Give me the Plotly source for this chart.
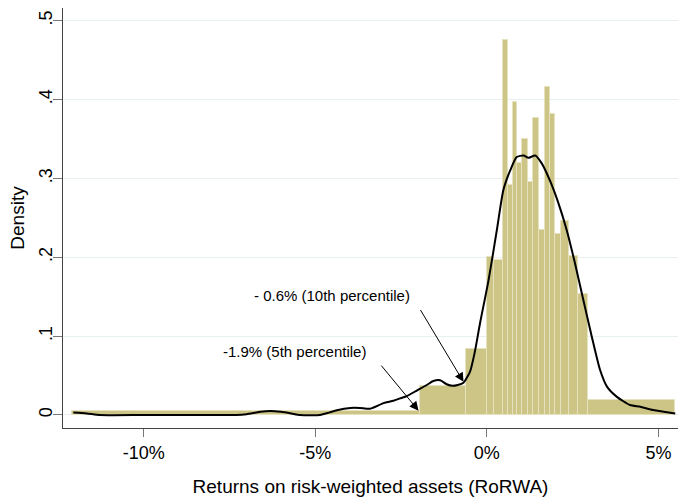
import plotly.graph_objects as go
import numpy as np

# Histogram bin edges (% RoRWA) and densities
bin_edges = [-12.08, -1.94, -0.62, 0.0, 0.21, 0.47, 0.63, 0.75, 0.89, 1.03, 1.21,
             1.35, 1.51, 1.70, 1.85, 1.99, 2.17, 2.40, 2.65, 2.96, 5.49]
bin_density = [0.0045, 0.037, 0.084, 0.200, 0.197, 0.475, 0.291, 0.397, 0.319, 0.350,
               0.295, 0.376, 0.235, 0.416, 0.381, 0.229, 0.246, 0.202, 0.153, 0.019]

# Kernel density curve
kde_x = [-12.05, -11.66, -11.27, -10.0, -9.0, -8.0, -7.3, -7.0, -6.6, -6.31, -6.0, -5.7,
         -5.44, -4.86, -4.6, -4.37, -3.98, -3.7, -3.40, -3.01, -2.72, -2.53, -2.33, -2.04,
         -1.75, -1.56, -1.36, -1.17, -1.0, -0.85, -0.68, -0.49, -0.35, -0.20, 0.05, 0.29,
         0.48, 0.68, 0.87, 1.07, 1.21, 1.41, 1.60, 1.84, 2.09, 2.33, 2.57, 2.81, 3.06,
         3.30, 3.50, 3.79, 4.17, 4.47, 4.85, 5.49]
kde_y = [0.003, 0.002, 0.0, 0.0, 0.0, 0.0, 0.0, 0.001, 0.004, 0.005, 0.004, 0.002,
         0.0, 0.0, 0.003, 0.006, 0.009, 0.009, 0.008, 0.015, 0.018, 0.021, 0.024, 0.031,
         0.038, 0.043, 0.044, 0.039, 0.037, 0.038, 0.041, 0.055, 0.080, 0.116, 0.171, 0.234,
         0.285, 0.310, 0.327, 0.329, 0.326, 0.329, 0.319, 0.297, 0.268, 0.234, 0.192, 0.146, 0.099,
         0.057, 0.036, 0.023, 0.0127, 0.0105, 0.0063, 0.002]

x_tickvals = [-10, -5, 0, 5]
x_ticktext = ["-10%", "-5%", "0%", "5%"]
y_tickvals = [0, 0.1, 0.2, 0.3, 0.4, 0.5]
y_ticktext = ["0", ".1", ".2", ".3", ".4", ".5"]

edges = np.array(bin_edges)
centers = (edges[:-1] + edges[1:]) / 2
widths = np.diff(edges)

fig = go.Figure()
fig.add_trace(go.Bar(
    x=centers, y=bin_density, width=widths,
    marker=dict(color="#ccc585", line=dict(color="#e6e2bf", width=1)),
    hoverinfo="skip", showlegend=False,
))
fig.add_trace(go.Scatter(
    x=kde_x, y=kde_y, mode="lines", line=dict(color="black", width=2, shape="spline", smoothing=0.6),
    showlegend=False,
))

font_family = "Liberation Sans, Arial, sans-serif"

annots = [
    dict(x=-0.68, y=0.042, ax=-1.96, ay=0.135),
    dict(x=-1.99, y=0.0055, ax=-3.11, ay=0.0645),
]
for a in annots:
    fig.add_annotation(x=a["x"], y=a["y"], ax=a["ax"], ay=a["ay"], xref="x", yref="y",
                       axref="x", ayref="y", text="", showarrow=True, arrowhead=2,
                       arrowsize=1.8, arrowwidth=1, arrowcolor="black")

fig.add_annotation(x=-4.52, y=0.152, text="- 0.6% (10th percentile)", showarrow=False,
                   font=dict(size=15, color="black", family=font_family))
fig.add_annotation(x=-5.60, y=0.081, text="-1.9% (5th percentile)", showarrow=False,
                   font=dict(size=15, color="black", family=font_family))

fig.update_layout(
    width=678, height=498,
    margin=dict(l=63, r=0, t=8, b=70),
    plot_bgcolor="white", paper_bgcolor="white",
    bargap=0,
    font=dict(family=font_family, color="black", size=18),
    xaxis=dict(range=[-12.35, 5.57], tickvals=x_tickvals, ticktext=x_ticktext,
               automargin=False,
               showgrid=False, zeroline=False, showline=True, linecolor="#444", linewidth=1,
               ticks="outside", ticklen=8, tickcolor="#777",
               title=dict(text="Returns on risk-weighted assets (RoRWA)", font=dict(size=19), standoff=18)),
    yaxis=dict(range=[-0.0165, 0.516], tickvals=y_tickvals, ticktext=y_ticktext,
               automargin=False, ticklabelstandoff=-6,
               tickangle=-90, showgrid=True, gridcolor="#e8f0f2", gridwidth=1,
               zeroline=False, showline=True, linecolor="#444", linewidth=1,
               ticks="outside", ticklen=9, tickcolor="#777",
               title=dict(text="Density", font=dict(size=19), standoff=6)),
)

fig.write_html("out.html",
               config={"displayModeBar": False},
               post_script="document.body.style.margin='0';document.body.style.overflow='hidden';")
